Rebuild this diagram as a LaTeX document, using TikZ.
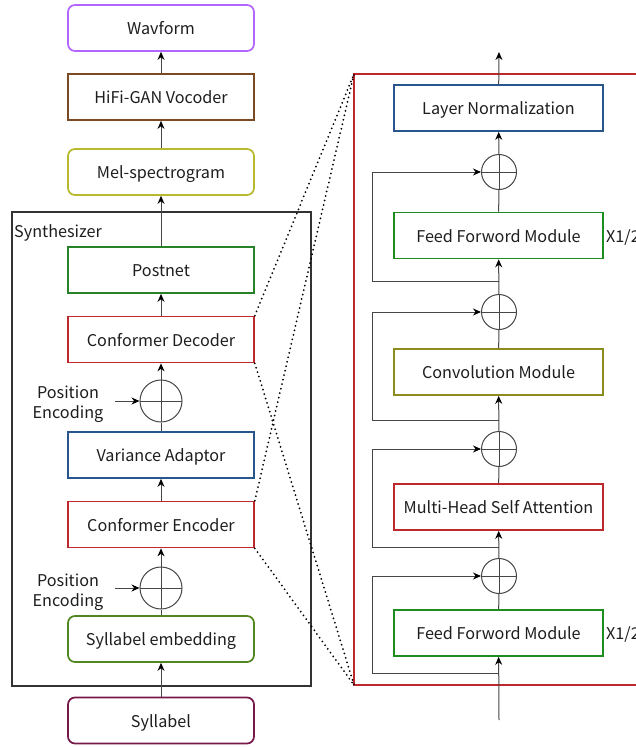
\documentclass[tikz,border=0pt]{standalone}
\usepackage{fontspec}
\setmainfont{Noto Sans CJK SC}
\usetikzlibrary{arrows.meta}
\definecolor{cpurple}{RGB}{178,102,255}
\definecolor{cbrown}{RGB}{122,74,36}
\definecolor{cmel}{RGB}{185,185,45}
\definecolor{cconv}{RGB}{140,140,30}
\definecolor{cgreen}{RGB}{40,130,40}
\definecolor{cffm}{RGB}{30,140,30}
\definecolor{cemb}{RGB}{80,135,30}
\definecolor{cred}{RGB}{190,40,45}
\definecolor{cblue}{RGB}{40,85,140}
\definecolor{csyl}{RGB}{120,25,75}
\definecolor{cline}{RGB}{70,70,70}
\definecolor{ctext}{RGB}{30,30,30}
\tikzset{
  box/.style={draw, line width=1.7pt, fill=white, minimum height=46pt, inner sep=0pt,
    text height=16pt, text depth=2.4pt,
    font=\fontsize{16.2}{19}\selectfont, text=ctext},
  lbox/.style={box, minimum width=186pt},
  rbox/.style={box, minimum width=209pt},
  rnd/.style={rounded corners=7pt},
  wire/.style={draw=cline, line width=1pt},
  arr/.style={wire, -{Stealth[length=8pt,width=7pt,color=black]}},
  oplus/.style={circle, draw=cline, line width=1pt, inner sep=0pt, minimum size=#1,
    path picture={\draw[cline, line width=1pt] (path picture bounding box.north) -- (path picture bounding box.south)
      (path picture bounding box.west) -- (path picture bounding box.east);}},
  dots/.style={draw=black, line width=2pt, line cap=round, dash pattern=on 0pt off 4.6pt},
  lbl/.style={font=\fontsize{16.2}{19}\selectfont, text=ctext, inner sep=0pt}
}
\begin{document}
\begin{tikzpicture}[x=1pt,y=-1pt]
\useasboundingbox (0,0) rectangle (636,747);
\clip (0,0) rectangle (636,747);
\fill[white] (0,0) rectangle (636,747);

% synthesizer frame
\node[draw=black!80, line width=1.8pt, minimum width=299pt, minimum height=474pt, inner sep=0pt] (synth) at (161.5,449) {};
\node[lbl, anchor=west] (synthl) at (14,233) {Synthesizer};

% left column
\node[lbox, rnd, draw=cpurple] (wav) at (161,28) {Wavform};
\node[lbox, draw=cbrown] (hifi) at (161,97) {HiFi-GAN Vocoder};
\node[lbox, rnd, draw=cmel] (mel) at (161,172) {Mel-spectrogram};
\node[lbox, draw=cgreen] (post) at (161,270) {Postnet};
\node[lbox, draw=cred] (dec) at (161,339.5) {Conformer Decoder};
\node[oplus=42pt] (opd) at (161,401) {};
\node[lbox, draw=cblue] (var) at (161,455) {Variance Adaptor};
\node[lbox, draw=cred] (enc) at (161,524.5) {Conformer Encoder};
\node[oplus=42pt] (ope) at (161,588) {};
\node[lbox, rnd, draw=cemb] (emb) at (161,639) {Syllabel embedding};
\node[lbox, rnd, draw=csyl] (syl) at (161,720.5) {Syllabel};

\node[lbl, align=center] (ped) at (68,404) {Position\\[1pt]Encoding};
\node[lbl, align=center] (pee) at (68,592) {Position\\[1pt]Encoding};
\coordinate (peds) at (115,401);
\coordinate (pees) at (115,588);

\draw[arr] (syl) -- (emb);
\draw[wire] (emb) -- (ope);
\draw[arr] (ope) -- (enc);
\draw[arr] (pees) -- (ope);
\draw[arr] (enc) -- (var);
\draw[wire] (var) -- (opd);
\draw[arr] (opd) -- (dec);
\draw[arr] (peds) -- (opd);
\draw[arr] (dec) -- (post);
\draw[arr] (post) -- (mel);
\draw[arr] (mel) -- (hifi);
\draw[arr] (hifi) -- (wav);

% right detail frame
\coordinate (rtl) at (354,74);
\coordinate (rbl) at (354,685);
\draw[draw=cred, line width=1.8pt] (645,74) -- (rtl) -- (rbl) -- (645,685);

\node[rbox, draw=cblue] (ln) at (498.5,108) {Layer Normalization};
\node[oplus=35pt] (op1) at (499,172) {};
\node[rbox, draw=cffm] (ff2) at (498.5,235.5) {Feed Forword Module};
\node[oplus=35pt] (op2) at (499,312) {};
\node[rbox, draw=cconv] (conv) at (498.5,372) {Convolution Module};
\node[oplus=35pt] (op3) at (499,449) {};
\node[rbox, draw=cred] (mhsa) at (498.5,507) {Multi-Head Self Attention};
\node[oplus=35pt] (op4) at (499,576) {};
\node[rbox, draw=cffm] (ff1) at (498.5,633) {Feed Forword Module};
\node[lbl, anchor=west] (x2) at (606,238) {X1/2};
\node[lbl, anchor=west] (x1) at (606,635) {X1/2};

\coordinate (in) at (499,720);
\coordinate (out) at (499,52);
\coordinate (s1) at (499,673);
\coordinate (s2) at (499,547);
\coordinate (s3) at (499,420);
\coordinate (s4) at (499,281);

\draw[arr] (in) -- (ff1);
\draw[wire] (ff1) -- (op4);
\draw[arr] (op4) -- (mhsa);
\draw[wire] (mhsa) -- (op3);
\draw[arr] (op3) -- (conv);
\draw[wire] (conv) -- (op2);
\draw[arr] (op2) -- (ff2);
\draw[wire] (ff2) -- (op1);
\draw[arr] (op1) -- (ln);
\draw[arr] (ln) -- (out);

\draw[arr] (s1) -- (372,673) |- (op4);
\draw[arr] (s2) -- (372,547) |- (op3);
\draw[arr] (s3) -- (372,420) |- (op2);
\draw[arr] (s4) -- (372,281) |- (op1);

% zoom dotted lines
\draw[dots] (dec.north east) -- (rtl);
\draw[dots] (dec.south east) -- (rbl);
\draw[dots] (enc.north east) -- (rtl);
\draw[dots] (enc.south east) -- (rbl);
\end{tikzpicture}
\end{document}
